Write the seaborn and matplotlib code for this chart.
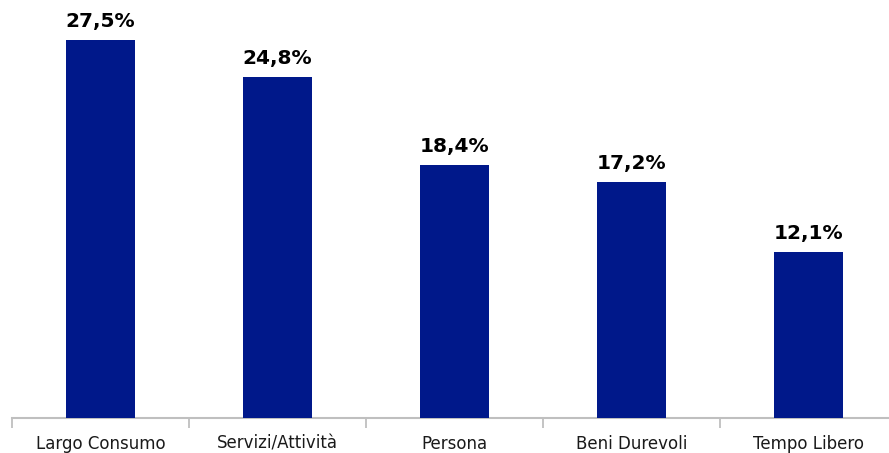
import matplotlib
matplotlib.use("Agg")
import matplotlib.pyplot as plt
import seaborn as sns
import pandas as pd

categories = ["Largo Consumo", "Servizi/Attività", "Persona", "Beni Durevoli", "Tempo Libero"]
values = [27.5, 24.8, 18.4, 17.2, 12.1]
value_labels = ["27,5%", "24,8%", "18,4%", "17,2%", "12,1%"]

df = pd.DataFrame({"cat": categories, "val": values})

sns.set_theme(style="white")
plt.rcParams["font.family"] = ["DejaVu Sans"]

W, H = 889, 453
fig = plt.figure(figsize=(W / 100, H / 100), dpi=100)
ax = fig.add_axes([12 / W, (H - 418) / H, 885 / W, 418 / H])

sns.barplot(data=df, x="cat", y="val", color="#00188A", width=0.39,
            saturation=1, ax=ax, zorder=3, edgecolor="#00188A", linewidth=0)

ax.set_xlim(-0.5, 4.5)
ax.set_ylim(0, 30.41)
for i, (v, lab) in enumerate(zip(values, value_labels)):
    ax.text(i, v + 0.65, lab, ha="center", va="bottom", fontsize=14.5,
            fontweight="bold", color="#000000")

ax.set_xlabel("")
ax.set_ylabel("")
ax.set_yticks([])
for s in ["top", "right", "left"]:
    ax.spines[s].set_visible(False)
ax.spines["bottom"].set_color("#BFBFBF")
ax.spines["bottom"].set_linewidth(1.5)
ax.spines["bottom"].set_zorder(2)

ax.set_xticks([i - 0.5 for i in range(6)], minor=False)
ax.set_xticklabels([])
ax.tick_params(axis="x", which="major", direction="out", length=7, width=1.3,
               color="#BFBFBF", bottom=True)
ax.set_xticks(range(5), minor=True)
ax.set_xticklabels(categories, minor=True, fontsize=12, color="#1a1a1a")
ax.tick_params(axis="x", which="minor", length=0, pad=12)

fig.savefig("out.png", dpi=100)
